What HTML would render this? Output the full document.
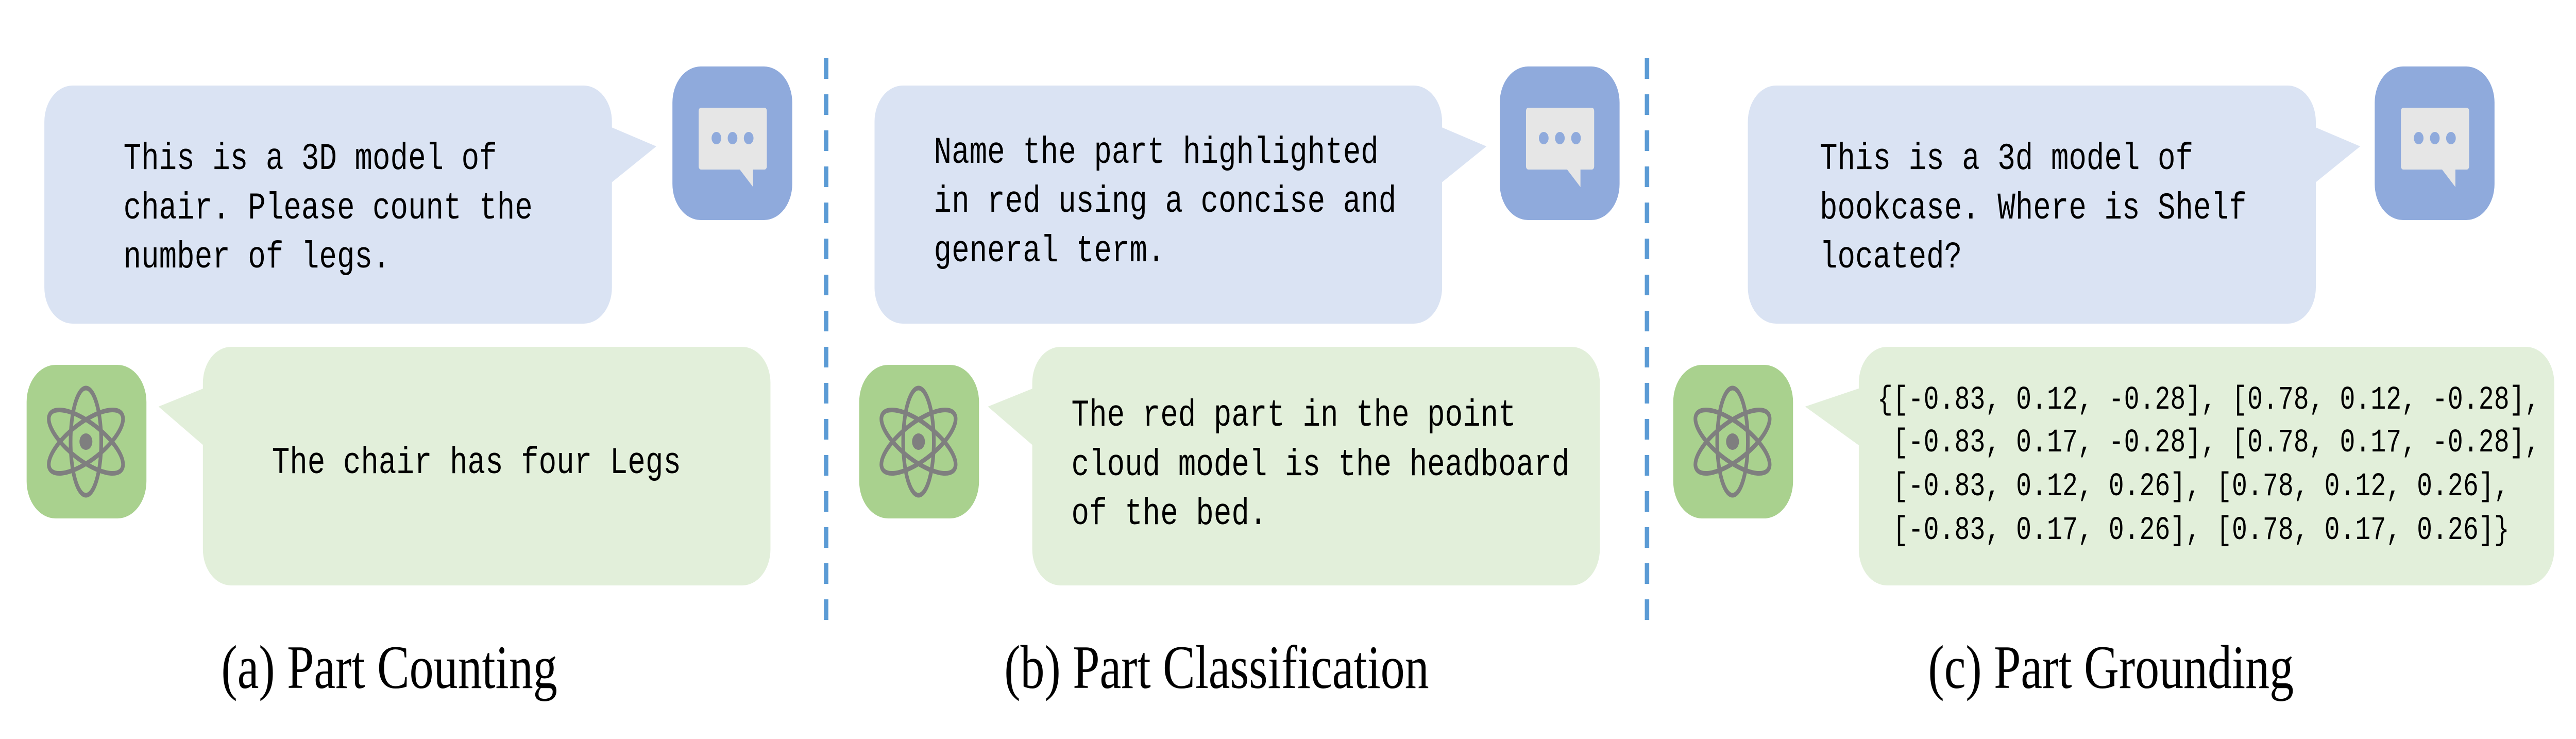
<!DOCTYPE html>
<html><head><meta charset="utf-8"><style>
html,body{margin:0;padding:0;background:#fff;width:100%;height:100%;overflow:hidden;}
svg{display:block;width:100vw;height:100vh;}
.m{font-family:"Liberation Mono",monospace;fill:#000;}
.cap{font-family:"Liberation Serif",serif;font-size:120px;fill:#000;}
</style></head><body>
<svg viewBox="0 0 6386 1434" preserveAspectRatio="none" xmlns="http://www.w3.org/2000/svg">
<defs>
<g id="chat">
  <rect x="0" y="0" width="297" height="298" rx="70" fill="#8faadc"/>
  <rect x="65" y="80" width="169" height="120" rx="6" fill="#e6e6e6"/>
  <polygon points="166,199 200,234 200,199" fill="#e6e6e6"/>
  <circle cx="109" cy="139" r="12" fill="#8faadc"/>
  <circle cx="149" cy="139" r="12" fill="#8faadc"/>
  <circle cx="189" cy="139" r="12" fill="#8faadc"/>
</g>
<g id="atom">
  <rect x="0" y="0" width="297" height="298" rx="72" fill="#a9d18e"/>
  <g transform="translate(147,149)" fill="none" stroke="#7f7f7f" stroke-width="9">
    <ellipse cx="0" cy="0" rx="38" ry="104"/>
    <ellipse cx="0" cy="0" rx="38" ry="104" transform="rotate(60)"/>
    <ellipse cx="0" cy="0" rx="38" ry="104" transform="rotate(-60)"/>
  </g>
  <circle cx="147" cy="149" r="16" fill="#7f7f7f"/>
</g>
</defs>

<line x1="2048" y1="113" x2="2048" y2="1216" stroke="#5b9bd5" stroke-width="11" stroke-dasharray="40 30"/>
<line x1="4083" y1="113" x2="4083" y2="1216" stroke="#5b9bd5" stroke-width="11" stroke-dasharray="40 30"/>

<!-- Panel A -->
<rect x="110" y="166" width="1407" height="462" rx="70" fill="#dae3f3"/>
<polygon points="1510,245 1627,284 1510,358" fill="#dae3f3"/>
<use href="#chat" x="1667" y="129"/>
<text class="m" font-size="73.5" x="306" y="328">This is a 3D model of</text>
<text class="m" font-size="73.5" x="306" y="424">chair. Please count the</text>
<text class="m" font-size="73.5" x="306" y="519">number of legs.</text>

<use href="#atom" x="66" y="708"/>
<rect x="503" y="673" width="1407" height="463" rx="70" fill="#e2efda"/>
<polygon points="510,752 393,789 510,868" fill="#e2efda"/>
<text class="m" font-size="73.5" x="674" y="918">The chair has four Legs</text>
<text class="cap" x="965" y="1335" text-anchor="middle">(a) Part Counting</text>

<!-- Panel B -->
<rect x="2168" y="166" width="1407" height="462" rx="70" fill="#dae3f3"/>
<polygon points="3568,245 3685,284 3568,358" fill="#dae3f3"/>
<use href="#chat" x="3718" y="129"/>
<text class="m" font-size="73.5" x="2315" y="316">Name the part highlighted</text>
<text class="m" font-size="73.5" x="2315" y="411">in red using a concise and</text>
<text class="m" font-size="73.5" x="2315" y="507">general term.</text>

<use href="#atom" x="2130" y="708"/>
<rect x="2559" y="673" width="1407" height="463" rx="70" fill="#e2efda"/>
<polygon points="2566,752 2449,789 2566,868" fill="#e2efda"/>
<text class="m" font-size="73.5" x="2656" y="826">The red part in the point</text>
<text class="m" font-size="73.5" x="2656" y="922">cloud model is the headboard</text>
<text class="m" font-size="73.5" x="2656" y="1017">of the bed.</text>
<text class="cap" x="3016" y="1335" text-anchor="middle">(b) Part Classification</text>

<!-- Panel C -->
<rect x="4333" y="166" width="1408" height="462" rx="70" fill="#dae3f3"/>
<polygon points="5734,245 5851,284 5734,358" fill="#dae3f3"/>
<use href="#chat" x="5887" y="129"/>
<text class="m" font-size="73.5" x="4511" y="328">This is a 3d model of</text>
<text class="m" font-size="73.5" x="4511" y="424">bookcase. Where is Shelf</text>
<text class="m" font-size="73.5" x="4511" y="519">located?</text>

<use href="#atom" x="4148" y="708"/>
<rect x="4608" y="673" width="1724" height="463" rx="70" fill="#e2efda"/>
<polygon points="4615,752 4475,789 4615,868" fill="#e2efda"/>
<text class="m" font-size="63.7" x="4654" y="793" xml:space="preserve">{[-0.83, 0.12, -0.28], [0.78, 0.12, -0.28],</text>
<text class="m" font-size="63.7" x="4654" y="876" xml:space="preserve"> [-0.83, 0.17, -0.28], [0.78, 0.17, -0.28],</text>
<text class="m" font-size="63.7" x="4654" y="961" xml:space="preserve"> [-0.83, 0.12, 0.26], [0.78, 0.12, 0.26],</text>
<text class="m" font-size="63.7" x="4654" y="1046" xml:space="preserve"> [-0.83, 0.17, 0.26], [0.78, 0.17, 0.26]}</text>
<text class="cap" x="5233" y="1335" text-anchor="middle">(c) Part Grounding</text>
</svg>
</body></html>
